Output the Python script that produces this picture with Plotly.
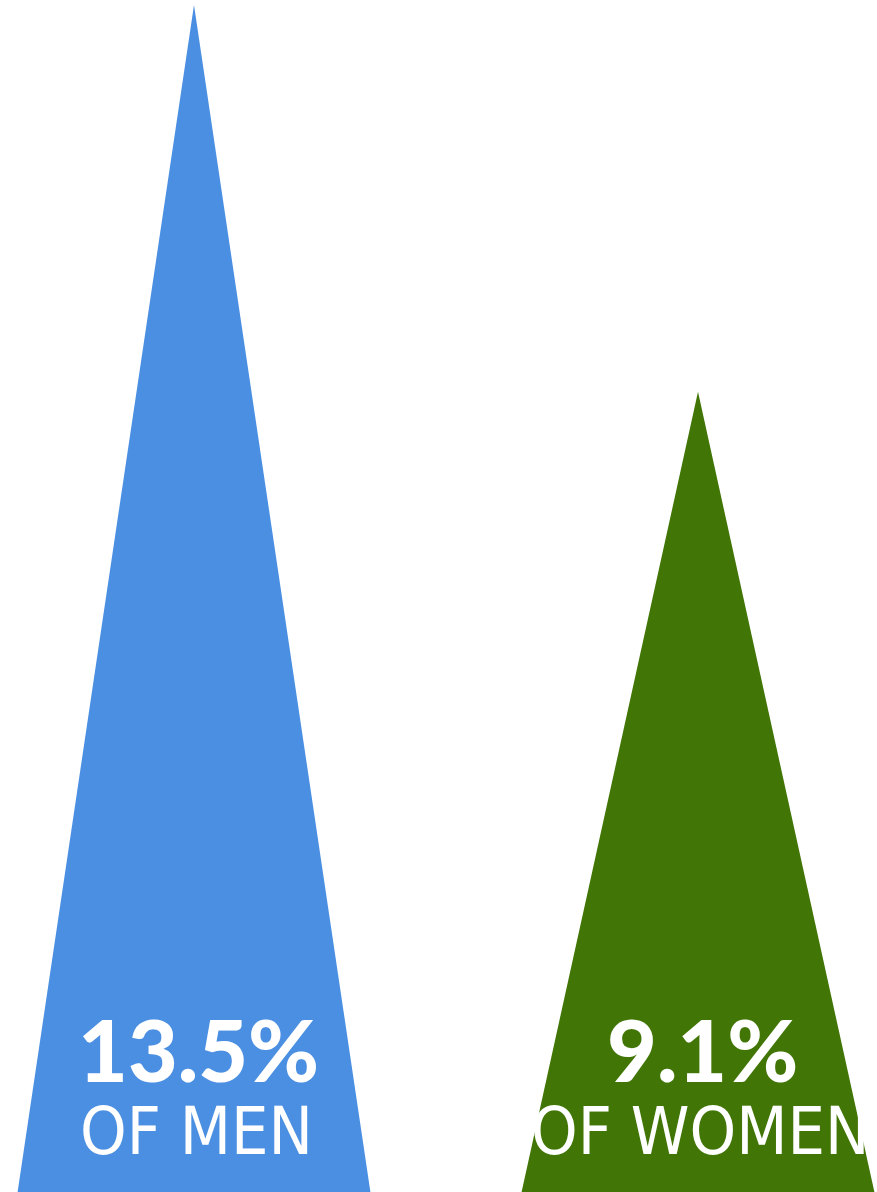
import plotly.graph_objects as go

categories = ["MEN", "WOMEN"]
values = [13.5, 9.1]
labels = ["13.5%", "9.1%"]
sublabels = ["OF MEN", "OF WOMEN"]
colors = ["#4a8fe2", "#417505"]

W, H = 877, 1192
half = 0.35  # half base width in category units

fig = go.Figure()
for i, (cat, v, col) in enumerate(zip(categories, values, colors)):
    fig.add_trace(go.Scatter(
        x=[i - half, i, i + half, i - half],
        y=[0, v, 0, 0],
        mode="lines", fill="toself", fillcolor=col,
        line=dict(color=col, width=0), name=cat, hoverinfo="name",
    ))

for i, (lab, sub) in enumerate(zip(labels, sublabels)):
    fig.add_annotation(x=i + 0.008, y=0.12, xref="x", yref="paper", text=lab,
                       showarrow=False, font=dict(family="Lato, DejaVu Sans", size=86,
                                                  color="white", weight=900),
                       yanchor="middle")
    fig.add_annotation(x=i + 0.004, y=0.051, xref="x", yref="paper", text=sub,
                       showarrow=False,
                       font=dict(family="Liberation Sans Narrow, DejaVu Sans Condensed, Lato",
                                 size=66, color="white"),
                       yanchor="middle")

fig.update_layout(
    width=W, height=H, margin=dict(l=0, r=0, t=0, b=0),
    paper_bgcolor="white", plot_bgcolor="white", showlegend=False,
    xaxis=dict(range=[-194 / 504, (W - 194) / 504], visible=False, fixedrange=True),
    yaxis=dict(range=[0, 13.5 * 1192 / 1187], visible=False, fixedrange=True),
)
fig.write_html("out.html", config={"displayModeBar": False},
               post_script="document.body.style.margin='0';document.body.style.overflow='hidden';")
